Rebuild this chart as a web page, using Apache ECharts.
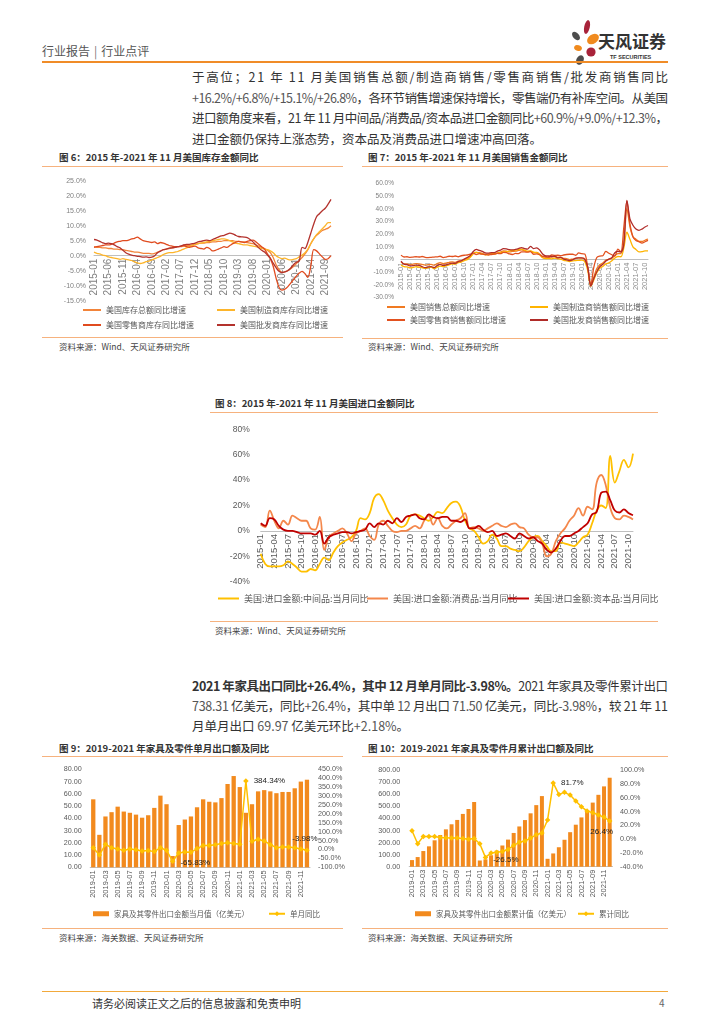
<!DOCTYPE html>
<html><head><meta charset="utf-8">
<script src="https://cdn.jsdelivr.net/npm/echarts@6/dist/echarts.min.js"></script>
<style>
html,body{margin:0;padding:0;background:#fff;}
body{width:724px;height:1024px;position:relative;overflow:hidden;font-family:"Noto Sans CJK SC","Liberation Sans",sans-serif;color:#333;}
.a{position:absolute;white-space:nowrap;}
.hl{position:absolute;height:0;border-top:1px solid #F6B27E;}
.ttl{position:absolute;font-size:9.5px;font-weight:bold;color:#333;white-space:nowrap;line-height:12px;}
.src{position:absolute;font-size:8.5px;color:#444;white-space:nowrap;line-height:11px;}
.p{position:absolute;left:192px;font-size:12.5px;line-height:16px;white-space:nowrap;color:#333;}
.n{color:#555;}
.ch{position:absolute;}
</style></head><body>

<div class="a" style="left:42px;top:44px;font-size:12px;line-height:14px;color:#555;">行业报告<span style="margin:0 4px;color:#777;">|</span>行业点评</div>
<svg class="a" style="left:566px;top:18px" width="106" height="48" viewBox="0 0 106 48">
  <ellipse cx="21" cy="9" rx="2.8" ry="7" fill="#A8233A" transform="rotate(12 21 9)"/>
  <ellipse cx="27" cy="21" rx="6.5" ry="4.5" fill="#F08A1E" transform="rotate(-35 27 21)"/>
  <ellipse cx="10" cy="18" rx="3" ry="5" fill="#4d4d4d" transform="rotate(-40 10 18)"/>
  <ellipse cx="12" cy="30" rx="4" ry="2.8" fill="#F08A1E" transform="rotate(20 12 30)"/>
  <circle cx="25" cy="34" r="4.6" fill="#A8233A"/>
  <ellipse cx="14" cy="42" rx="3.6" ry="5" fill="#4d4d4d" transform="rotate(25 14 42)"/>
  <text x="32" y="30" font-size="17" font-weight="bold" fill="#333" font-family="Noto Sans CJK SC">天风证券</text>
  <text x="44" y="41" font-size="5.5" font-weight="bold" fill="#333" font-family="Liberation Sans">TF SECURITIES</text>
</svg>
<div class="a" style="left:42px;top:61px;width:626px;height:0;border-top:2px solid #F08C28;"></div>

<div class="p j" style="top:69px;">于高位；21 年 11 月美国销售总额/制造商销售/零售商销售/批发商销售同比</div>
<div class="p j" style="top:90px;"><span class="n">+16.2%/+6.8%/+15.1%/+26.8%</span>，各环节销售增速保持增长，零售端仍有补库空间。从美国</div>
<div class="p j" style="top:110px;">进口额角度来看，21 年 11 月中间品/消费品/资本品进口金额同比<span class="n">+60.9%/+9.0%/+12.3%</span>，</div>
<div class="p" style="top:131px;">进口金额仍保持上涨态势，资本品及消费品进口增速冲高回落。</div>

<div class="ttl" style="left:59px;top:151px;">图 6：2015 年-2021 年 11 月美国库存金额同比</div>
<div class="hl" style="left:42px;top:166px;width:301px;"></div>
<div class="ch" id="c6" style="left:42px;top:170px;width:310px;height:165px;"></div>
<div class="hl" style="left:42px;top:337px;width:301px;"></div>
<div class="src" style="left:59px;top:341px;">资料来源：Wind、天风证券研究所</div>

<div class="ttl" style="left:368px;top:151px;">图 7：2015 年-2021 年 11 月美国销售金额同比</div>
<div class="hl" style="left:362px;top:166px;width:306px;"></div>
<div class="ch" id="c7" style="left:362px;top:170px;width:306px;height:165px;"></div>
<div class="hl" style="left:362px;top:338px;width:306px;"></div>
<div class="src" style="left:368px;top:341px;">资料来源：Wind、天风证券研究所</div>

<div class="ttl" style="left:215px;top:397px;">图 8：2015 年-2021 年 11 月美国进口金额同比</div>
<div class="hl" style="left:210px;top:412px;width:448px;"></div>
<div class="ch" id="c8" style="left:210px;top:415px;width:450px;height:200px;"></div>
<div class="hl" style="left:210px;top:621px;width:448px;"></div>
<div class="src" style="left:215px;top:625px;">资料来源：Wind、天风证券研究所</div>

<div class="p j" style="top:678px;"><b>2021 年家具出口同比+26.4%，其中 12 月单月同比-3.98%。</b>2021 年家具及零件累计出口</div>
<div class="p j" style="top:698px;"><span class="n">738.31</span> 亿美元，同比<span class="n">+26.4%</span>，其中单 <span class="n">12</span> 月出口 <span class="n">71.50</span> 亿美元，同比<span class="n">-3.98%</span>，较 21 年 11</div>
<div class="p" style="top:718px;">月单月出口 <span class="n">69.97</span> 亿美元环比<span class="n">+2.18%</span>。</div>

<div class="ttl" style="left:59px;top:742px;">图 9：2019-2021 年家具及零件单月出口额及同比</div>
<div class="hl" style="left:42px;top:756px;width:301px;"></div>
<div class="ch" id="c9" style="left:42px;top:760px;width:310px;height:165px;"></div>
<div class="hl" style="left:42px;top:928px;width:301px;"></div>
<div class="src" style="left:59px;top:932px;">资料来源：海关数据、天风证券研究所</div>

<div class="ttl" style="left:368px;top:742px;">图 10：2019-2021 年家具及零件月累计出口额及同比</div>
<div class="hl" style="left:362px;top:756px;width:306px;"></div>
<div class="ch" id="c10" style="left:362px;top:760px;width:306px;height:165px;"></div>
<div class="hl" style="left:362px;top:928px;width:306px;"></div>
<div class="src" style="left:368px;top:932px;">资料来源：海关数据、天风证券研究所</div>

<div class="a" style="left:42px;top:991px;width:626px;height:0;border-top:1.5px solid #F2A93B;"></div>
<div class="a" style="left:92px;top:996px;font-size:11px;line-height:14px;color:#333;">请务必阅读正文之后的信息披露和免责申明</div>
<div class="a" style="left:659px;top:996px;font-size:10px;line-height:14px;color:#666;">4</div>

<script>
// ---------- categories ----------
const monthsA = [];
for (let y = 2015; y <= 2021; y++) for (let m = 1; m <= 12; m++) { if (y === 2021 && m > 11) break; monthsA.push(y + '-' + String(m).padStart(2, '0')); }
const monthsB = [];
for (let y = 2019; y <= 2021; y++) for (let m = 1; m <= 12; m++) monthsB.push(y + '-' + String(m).padStart(2, '0'));

// ---------- Fig 6: inventory YoY (%) ----------
const inv6Names = ['美国库存总额同比增速', '美国制造商库存同比增速', '美国零售商库存同比增速', '美国批发商库存同比增速'];
const inv6Total = [3.0,2.8,2.8,2.6,2.6,2.4,2.4,2.2,2.2,2.0,2.0,1.8, 1.6,1.4,1.2,1.2,1.0,0.8,0.8,0.8,0.6,0.8,1.2,1.6, 2.0,2.2,2.4,2.6,2.8,3.0,3.0,3.2,3.4,3.4,3.6,3.8, 4.0,4.2,4.2,4.4,4.4,4.6,4.6,4.8,4.8,5.0,5.0,5.0, 5.0,4.8,4.8,4.6,4.6,4.4,4.2,4.0,3.6,3.2,2.8,2.4, 1.8,1.0,-0.6,-3.0,-4.6,-5.6,-5.4,-5.0,-4.4,-3.6,-2.6,-1.6, -0.6,0.6,2.0,4.0,5.6,6.8,7.6,8.4,8.8,9.2,10.0];
const inv6Manu = [1.2,0.8,0.6,0.2,0.0,-0.4,-0.6,-0.8,-1.0,-1.2,-1.0,-1.2, -1.4,-1.6,-2.0,-2.4,-2.6,-2.4,-2.0,-1.8,-1.4,-1.0,-0.6,-0.2, 0.4,0.8,1.0,1.0,1.2,1.4,1.8,2.2,2.6,3.0,3.4,3.8, 4.0,4.2,4.4,4.6,4.8,5.0,5.2,5.4,5.6,5.6,5.4,5.0, 4.6,4.2,4.0,3.8,3.6,3.6,3.4,3.2,3.0,2.8,2.4,2.2, 2.0,1.6,1.0,0.0,-0.6,-1.0,-0.8,-1.2,-1.4,-1.2,-1.0,-0.4, 0.2,1.0,2.2,4.0,5.6,7.0,8.0,9.0,10.0,11.0,11.0];
const inv6Retail = [2.8,3.0,3.2,3.4,3.6,3.6,3.8,4.2,4.6,4.8,5.0,5.0, 5.2,5.6,5.8,6.2,5.6,5.0,4.8,4.6,4.4,4.6,4.0,4.4, 4.2,3.8,3.4,3.2,3.0,3.0,3.2,3.4,3.0,2.8,3.0,3.2, 2.6,2.4,2.2,2.8,2.4,1.6,1.8,2.2,2.6,3.0,2.8,3.4, 4.0,4.4,4.8,4.6,4.4,4.8,5.0,5.2,4.6,3.8,3.0,2.2, 0.6,-1.0,-3.5,-7.5,-10.5,-11.5,-11.2,-10.4,-9.2,-8.0,-6.8,-5.8, -5.2,-6.0,-7.2,-3.5,2.0,1.6,0.6,-0.4,-1.2,-1.0,0.0];
const inv6Whole = [5.4,5.2,4.8,4.3,4.0,4.2,4.0,3.6,3.0,2.6,1.8,1.0, 0.5,0.2,0.0,-0.2,-0.3,-0.5,-0.4,-0.6,-0.5,0.0,1.0,1.5, 2.0,2.2,2.5,2.6,2.8,3.0,3.2,3.6,3.8,3.8,4.0,4.2, 4.6,4.8,5.0,5.2,5.0,5.4,5.8,6.2,6.6,6.8,7.2,7.5, 7.3,6.8,6.4,6.3,6.2,6.0,5.4,4.6,3.6,2.6,1.8,1.2, 0.2,-0.8,-2.5,-4.0,-5.2,-5.6,-5.4,-5.0,-4.2,-3.0,-2.2,-1.8, 2.8,2.4,4.5,7.5,10.5,13.0,14.0,15.0,15.8,17.2,18.8];
const inv6Colors = ['#F2843A', '#FDB52B', '#E04B1F', '#B3322D'];

// ---------- Fig 7: sales YoY (%) ----------
const sal7Names = ['美国销售总额同比增速', '美国制造商销售额同比增速', '美国零售商销售额同比增速', '美国批发商销售额同比增速'];
const sal7Total = [-2.0,-3.4,-3.4,-4.0,-3.6,-3.2,-3.4,-3.8,-4.4,-4.0,-3.8,-4.4, -3.2,-2.4,-3.2,-2.8,-2.2,-1.8,-2.2,-1.2,-0.8,0.2,1.0,2.4, 4.6,5.6,5.4,4.8,4.0,4.2,4.6,4.6,5.2,5.8,6.8,6.6, 6.0,6.4,6.6,7.2,7.6,7.0,6.2,6.6,5.4,5.6,4.4,2.4, 1.8,1.6,2.0,2.4,1.8,1.6,1.0,0.8,0.0,0.4,0.8,1.4, 1.2,0.6,-6.6,-20.2,-13.8,-7.0,-4.0,-2.8,-0.4,0.2,1.0,3.2, 4.6,4.8,13.8,40.0,26.0,18.0,16.0,14.4,14.2,15.2,16.2];
const sal7Manu = [-4.4,-5.6,-5.8,-6.6,-6.2,-5.6,-6.0,-6.4,-7.0,-6.4,-6.0,-7.2, -6.0,-5.2,-5.6,-4.8,-4.2,-3.4,-3.6,-2.4,-2.0,-0.8,0.0,1.8, 4.8,5.6,4.8,4.4,3.8,4.0,4.2,4.4,5.0,5.2,6.0,6.2, 6.8,7.2,7.4,8.0,8.2,7.4,6.6,6.8,5.8,5.4,4.0,1.4, 0.8,0.8,0.6,1.2,0.6,0.4,-0.6,-1.0,-1.6,-1.0,-0.8,-0.6, -0.4,-1.6,-8.6,-21.0,-16.0,-10.4,-6.8,-5.4,-3.4,-2.6,-1.0,1.2, 2.4,2.2,9.6,21.5,16.0,10.0,8.0,6.0,6.2,6.8,6.8];
const sal7Retail = [3.5,2.0,2.2,1.8,2.0,2.2,2.0,2.4,1.8,1.6,1.8,2.0, 2.2,2.6,1.6,2.0,2.6,2.4,2.8,2.2,3.0,3.4,3.6,4.2, 5.0,4.0,4.6,4.2,4.0,3.6,4.0,4.2,4.8,4.6,5.6,5.4, 4.4,4.0,4.8,4.6,6.0,6.0,5.8,6.2,4.2,4.4,3.8,2.4, 2.4,2.0,3.6,3.2,3.4,3.0,3.6,4.0,4.2,4.2,3.4,5.2, 4.6,4.4,-6.0,-20.0,-6.2,1.6,2.8,3.0,6.4,5.0,3.8,2.8, 8.2,6.0,26.0,46.0,28.0,18.0,15.0,14.0,13.0,14.0,15.1];
const sal7Whole = [-1.2,-3.6,-4.0,-5.0,-4.8,-4.4,-4.6,-5.6,-6.4,-5.8,-5.6,-6.4, -4.8,-3.8,-4.6,-4.2,-3.4,-2.8,-3.0,-1.6,-1.0,0.4,1.6,3.2, 6.4,8.0,7.2,6.4,5.2,5.0,5.4,5.4,6.6,7.4,8.6,8.4, 7.8,7.6,8.0,8.6,9.4,8.6,8.2,10.4,8.6,9.2,7.6,4.4, 3.0,2.8,2.4,2.6,1.4,1.8,0.4,-0.2,-0.8,-0.2,1.2,1.4, 1.4,0.2,-6.2,-20.8,-15.0,-9.6,-5.6,-3.8,-1.2,0.4,1.4,5.4, 6.4,6.0,12.6,46.5,32.0,27.0,24.0,23.0,24.0,25.6,26.8];
const sal7Colors = ['#F07A22', '#FFB400', '#E2511F', '#B02B28'];

// ---------- Fig 8: import YoY (%) ----------
const imp8Names = ['美国:进口金额:中间品:当月同比', '美国:进口金额:消费品:当月同比', '美国:进口金额:资本品:当月同比'];
const imp8Inter = [-18,-26,-28,-28,-28,-27,-24,-26,-29,-32,-32,-30, -31,-26,-21,-23,-17,-12,-9,-7,-5,0,10,9, 14,26,29,24,16,10,5,3,5,12,13,12, 10,8,11,15,14,18,22,23,19,8,2,0, -5,-10,-8,-3,-6,-12,-12,-14,-15,-16,-13,-8, -5,-4,-8,-12,-16,-16,-9,-10,-11,-12,-9,-5, -3,6,16,20,18,59,38,47,56,50,60.9];
const imp8Cons = [5,3,16,8,2,8,5,12,10,8,8,2, 1,11,-15,-5,-2,0,2,-2,-8,-2,0,2, -4,-7,5,8,4,0,-1,0,0,2,4,2, 8,12,5,10,4,2,5,8,10,14,2,3, 2,0,2,4,6,4,3,5,6,3,2,-3, -5,-5,-10,-20,-18,-8,-2,2,8,12,18,12, 19,17,38,44,36,18,10,9,12,11,9.0];
const imp8Cap = [6,4,10,9,4,1,0,0,-1,-2,-2,-2, -3,0,-10,-5,-3,-2,-1,-1,-2,-1,0,1, 6,3,6,5,8,6,10,7,11,12,13,10, 9,13,11,10,11,11,8,8,7,9,2,2, 4,1,-1,0,-4,-3,-2,-4,-6,-2,-4,-6, -5,-8,-10,-15,-17,-14,-8,-4,-4,-2,0,3, 6,13,15,30,31,24,16,14.5,17,14,12.3];
const imp8Colors = ['#FFC000', '#F4874B', '#C00000'];

// ---------- Fig 9: monthly furniture export ----------
const exp9Name = '家具及其零件出口金额当月值（亿美元）';
const yoy9Name = '单月同比';
const exp9 = [55.5,26.5,41.5,45,49.5,45.5,44.5,43,40.5,42.5,48.5,58.5, 51.5,9.2,34.5,39,41.5,49,55.5,53.5,53,56.5,68,74.5, 65.5,44.5,51.5,62,63,62,60.5,61.5,61.5,64.5,69.97,71.5];
const yoy9 = [10,-31,29,10,3,-5,3,-1,-8,-6,-12,10, -5,-65.83,-20,-14,-16,5,22,23,27,33,38,33, 29,384.34,46,57,48,27,10,14,14,10,3,-3.98];

// ---------- Fig 10: cumulative furniture export ----------
const cum10Name = '家具及其零件出口金额累计值（亿美元）';
const cyoy10Name = '累计同比';
const cum10 = [55,80,130,169,219,263,310,352,388,438,479,537, 51.5,61,95,134,176,225,280,334,387,443,511,586, 65.5,110,161.5,223.5,286.5,348.5,409,470.5,532,596.5,666.5,738.31];
const cyoy10 = [12.3,-6.6,4,4,4,2.5,2,1.5,1.5,1,0,1, -6.6,-26.5,-20,-19,-18,-15,-9,-4.6,-2.7,1.5,6.5,9, 27.8,81.7,65,68,64,55.4,47,41,38.5,35,32,26.4];

// ---------- justify paragraph lines ----------
document.querySelectorAll('.j').forEach(el => {
  const W = 476;
  const w = el.getBoundingClientRect().width;
  const n = el.textContent.length;
  el.style.letterSpacing = ((W - w) / (n - 1)) + 'px';
});

const FF = 'Liberation Sans, Noto Sans CJK SC, sans-serif';
const CJK = 'Noto Sans CJK SC, sans-serif';
const noAxis = { axisLine: { show: false }, axisTick: { show: false }, splitLine: { show: false } };

function lineLegend(name, left, top, fs, w) {
  return { data: [name], left: left, top: top, icon: 'rect', itemWidth: w || 18, itemHeight: 2, padding: 0, itemGap: 0,
    textStyle: { fontSize: fs, color: '#595959', fontFamily: CJK, padding: [0, 0, 0, 0] } };
}
function lineSeries(name, data, color, width, smooth) {
  return { type: 'line', name: name, data: data, showSymbol: false, symbol: 'none', smooth: smooth,
    lineStyle: { color: color, width: width }, itemStyle: { color: color } };
}
// category x axis drawn at the 0 value line (moved up by offset)
function zeroXAxis(offset, interval, fs, color) {
  return { type: 'category', data: monthsA, boundaryGap: false, position: 'bottom', offset: -offset,
    axisLine: { onZero: false, lineStyle: { color: '#bfbfbf', width: 1 } }, axisTick: { show: false },
    axisLabel: { interval: interval, rotate: 90, fontSize: fs, color: color, margin: 3 } };
}

// Fig 6
echarts.init(document.getElementById('c6')).setOption({
  animation: false, textStyle: { fontFamily: FF },
  grid: { left: 52, top: 10.7, width: 237, height: 120, outerBoundsMode: 'none', containLabel: false },
  xAxis: zeroXAxis(120 * 15 / 40, 4, 10, '#808080'),
  yAxis: Object.assign({ type: 'value', min: -15, max: 25, interval: 5,
    axisLabel: { formatter: v => v.toFixed(1) + '%', fontSize: 7, color: '#808080', margin: 8 } }, noAxis),
  legend: [lineLegend(inv6Names[0], 41, 136, 8), lineLegend(inv6Names[1], 175, 136, 8),
           lineLegend(inv6Names[2], 41, 151, 8), lineLegend(inv6Names[3], 175, 151, 8)],
  series: [lineSeries(inv6Names[0], inv6Total, inv6Colors[0], 1.3, 0.3),
           lineSeries(inv6Names[1], inv6Manu, inv6Colors[1], 1.3, 0.3),
           lineSeries(inv6Names[2], inv6Retail, inv6Colors[2], 1.3, 0.3),
           lineSeries(inv6Names[3], inv6Whole, inv6Colors[3], 1.3, 0.3)]
});

// Fig 7
echarts.init(document.getElementById('c7')).setOption({
  animation: false, textStyle: { fontFamily: FF },
  grid: { left: 39, top: 13.3, width: 247, height: 114.4, outerBoundsMode: 'none', containLabel: false },
  xAxis: zeroXAxis(114.4 * 30 / 90, 2, 7.5, '#8c8c8c'),
  yAxis: Object.assign({ type: 'value', min: -30, max: 60, interval: 10,
    axisLabel: { formatter: v => v.toFixed(1) + '%', fontSize: 6.5, color: '#808080', margin: 7 } }, noAxis),
  legend: [lineLegend(sal7Names[0], 25, 133, 8), lineLegend(sal7Names[1], 168, 133, 8),
           lineLegend(sal7Names[2], 25, 146, 8), lineLegend(sal7Names[3], 168, 146, 8)],
  series: [lineSeries(sal7Names[0], sal7Total, sal7Colors[0], 1.3, 0.3),
           lineSeries(sal7Names[1], sal7Manu, sal7Colors[1], 1.3, 0.3),
           lineSeries(sal7Names[2], sal7Retail, sal7Colors[2], 1.3, 0.3),
           lineSeries(sal7Names[3], sal7Whole, sal7Colors[3], 1.3, 0.3)]
});

// Fig 8
echarts.init(document.getElementById('c8')).setOption({
  animation: false, textStyle: { fontFamily: FF },
  grid: { left: 50.7, top: 14.3, width: 372.3, height: 152.4, outerBoundsMode: 'none', containLabel: false },
  xAxis: zeroXAxis(152.4 * 40 / 120, 2, 9.5, '#595959'),
  yAxis: Object.assign({ type: 'value', min: -40, max: 80, interval: 20,
    axisLabel: { formatter: v => v + '%', fontSize: 8.5, color: '#595959', margin: 11 } }, noAxis),
  legend: [lineLegend(imp8Names[0], 8, 179, 9, 21), lineLegend(imp8Names[1], 157, 179, 9, 21),
           lineLegend(imp8Names[2], 298, 179, 9, 21)],
  series: [lineSeries(imp8Names[0], imp8Inter, imp8Colors[0], 1.8, 0.4),
           lineSeries(imp8Names[1], imp8Cons, imp8Colors[1], 1.8, 0.4),
           lineSeries(imp8Names[2], imp8Cap, imp8Colors[2], 1.8, 0.4)]
});

// helpers for combo charts
function comboOption(cfg) {
  return {
    animation: false, textStyle: { fontFamily: FF },
    grid: Object.assign({ outerBoundsMode: 'none', containLabel: false }, cfg.grid),
    xAxis: { type: 'category', data: monthsB,
      axisLine: { lineStyle: { color: '#bfbfbf', width: 1 } }, axisTick: { show: false },
      axisLabel: { interval: 1, rotate: 90, fontSize: 7.5, color: '#595959', margin: 3 } },
    yAxis: [
      Object.assign({ type: 'value', min: cfg.l[0], max: cfg.l[1], interval: cfg.l[2],
        axisLabel: { formatter: v => v.toFixed(2), fontSize: 7.2, color: '#595959', margin: cfg.lm } }, noAxis),
      Object.assign({ type: 'value', position: 'right', min: cfg.r[0], max: cfg.r[1], interval: cfg.r[2],
        axisLabel: { formatter: v => v.toFixed(1) + '%', fontSize: 7.2, color: '#595959', margin: cfg.rm } }, noAxis)
    ],
    legend: [
      { data: [cfg.barName], left: cfg.lg[0], top: 150, icon: 'rect', itemWidth: 16, itemHeight: 5, padding: 0,
        textStyle: { fontSize: 7.5, color: '#595959', fontFamily: CJK } },
      { data: [cfg.lineName], left: cfg.lg[1], top: 150, itemWidth: 16, itemHeight: 6, padding: 0,
        textStyle: { fontSize: 7.5, color: '#595959', fontFamily: CJK } }
    ],
    series: [
      { type: 'bar', name: cfg.barName, data: cfg.bars, barWidth: cfg.bw, itemStyle: { color: '#F28A1E' } },
      { type: 'line', name: cfg.lineName, yAxisIndex: 1, data: cfg.line, symbol: 'diamond', symbolSize: 5.5,
        showSymbol: true, showAllSymbol: true,
        lineStyle: { color: '#FFC000', width: 1.5 }, itemStyle: { color: '#FFC000' } }
    ]
  };
}
function withLabels(values, marks) {
  return values.map((v, i) => {
    const m = marks[i];
    if (!m) return v;
    return { value: v, label: { show: true, position: m.pos, offset: m.off || [0, 0], formatter: m.text,
      fontSize: 8, color: '#222', fontFamily: FF } };
  });
}

// Fig 9
echarts.init(document.getElementById('c9')).setOption(comboOption({
  grid: { left: 48.2, top: 9.3, width: 219.8, height: 98 },
  l: [0, 80, 10], r: [-100, 450, 50], lm: 8.5, rm: 8,
  barName: exp9Name, lineName: yoy9Name, lg: [51, 226], bw: 4.3,
  bars: exp9,
  line: withLabels(yoy9, { 13: { pos: 'right', text: '-65.83%', off: [0, 2] }, 25: { pos: 'right', text: '384.34%' },
    35: { pos: 'top', text: '-3.98%', off: [-2, 0] } })
}));

// Fig 10
echarts.init(document.getElementById('c10')).setOption(comboOption({
  grid: { left: 47.2, top: 10.3, width: 203.3, height: 96.4 },
  l: [0, 800, 100], r: [-40, 100, 20], lm: 9, rm: 7.5,
  barName: cum10Name, lineName: cyoy10Name, lg: [53, 215], bw: 4,
  bars: cum10,
  line: withLabels(cyoy10, { 13: { pos: 'right', text: '-26.5%', off: [0, 2] }, 25: { pos: 'right', text: '81.7%' },
    35: { pos: 'bottom', text: '26.4%', off: [-8, -1] } })
}));
</script>
</body></html>
